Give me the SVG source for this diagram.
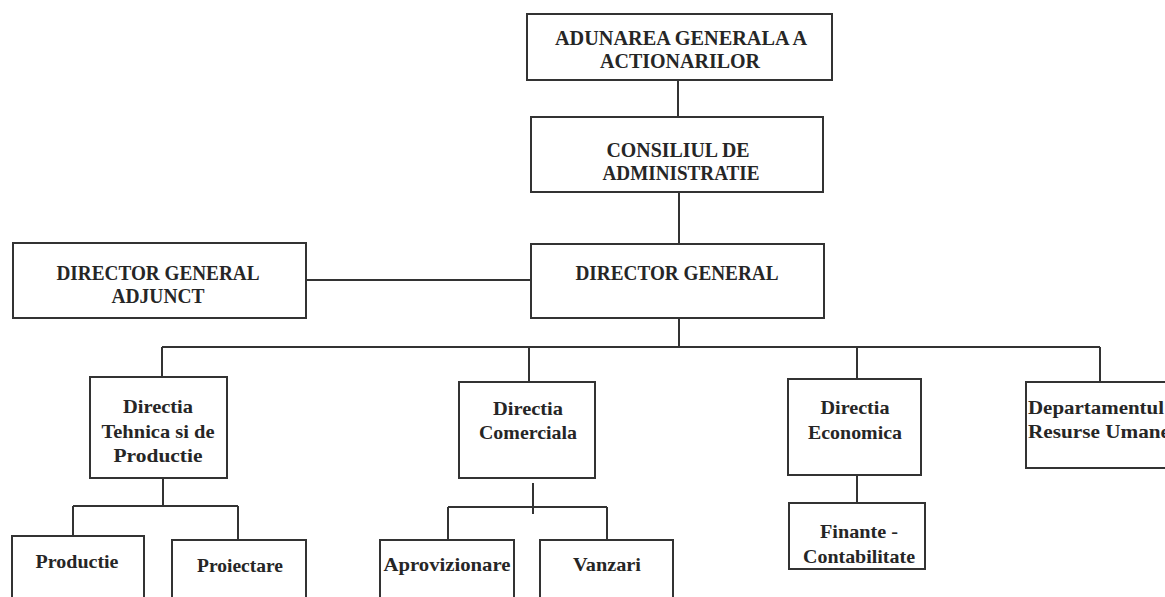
<svg xmlns="http://www.w3.org/2000/svg" width="1165" height="597" viewBox="0 0 1165 597">
<style>
.box{fill:#fff;stroke:#333;stroke-width:2}
.ln{fill:none;stroke:#333;stroke-width:2}
.t{font-family:"Liberation Serif","Times New Roman",serif;font-weight:bold;fill:#262626;text-anchor:middle}
.u{font-size:21px}
.l{font-size:19px}
</style>
<rect width="1165" height="597" fill="#fff"/>
<g id="connectors">
<path class="ln" d="M678 80V117"/>
<path class="ln" d="M679 192V244"/>
<path class="ln" d="M306 280H531"/>
<path class="ln" d="M679 318V347"/>
<path class="ln" d="M162 347H1100"/>
<path class="ln" d="M162 347V377"/>
<path class="ln" d="M529 347V382"/>
<path class="ln" d="M857 347V379"/>
<path class="ln" d="M1100 347V382"/>
<path class="ln" d="M163 478V506M73 506H238M73 506V536M238 506V540"/>
<path class="ln" d="M533 483V514M448 507H607M448 507V540M607 507V540"/>
<path class="ln" d="M857 475V503"/>
</g>
<g id="n-adunarea">
<rect class="box" x="527" y="14" width="305" height="66"/>
<text class="t u" x="681" y="45" textLength="252" lengthAdjust="spacingAndGlyphs">ADUNAREA GENERALA A</text>
<text class="t u" x="680" y="68" textLength="160" lengthAdjust="spacingAndGlyphs">ACTIONARILOR</text>
</g>
<g id="n-consiliul">
<rect class="box" x="531" y="117" width="292" height="75"/>
<text class="t u" x="678" y="157" textLength="143" lengthAdjust="spacingAndGlyphs">CONSILIUL DE</text>
<text class="t u" x="681" y="180" textLength="157" lengthAdjust="spacingAndGlyphs">ADMINISTRATIE</text>
</g>
<g id="n-dg">
<rect class="box" x="531" y="244" width="293" height="74"/>
<text class="t u" x="677" y="280" textLength="203" lengthAdjust="spacingAndGlyphs">DIRECTOR GENERAL</text>
</g>
<g id="n-dga">
<rect class="box" x="13" y="243" width="293" height="75"/>
<text class="t u" x="158" y="280" textLength="203" lengthAdjust="spacingAndGlyphs">DIRECTOR GENERAL</text>
<text class="t u" x="158" y="303" textLength="93" lengthAdjust="spacingAndGlyphs">ADJUNCT</text>
</g>
<g id="n-tehnica">
<rect class="box" x="90" y="377" width="137" height="101"/>
<text class="t l" x="158" y="413" textLength="70" lengthAdjust="spacingAndGlyphs">Directia</text>
<text class="t l" x="158" y="438" textLength="113" lengthAdjust="spacingAndGlyphs">Tehnica si de</text>
<text class="t l" x="158" y="462" textLength="89" lengthAdjust="spacingAndGlyphs">Productie</text>
</g>
<g id="n-comerciala">
<rect class="box" x="459" y="382" width="136" height="96"/>
<text class="t l" x="528" y="415" textLength="70" lengthAdjust="spacingAndGlyphs">Directia</text>
<text class="t l" x="528" y="439" textLength="98" lengthAdjust="spacingAndGlyphs">Comerciala</text>
</g>
<g id="n-economica">
<rect class="box" x="788" y="379" width="133" height="96"/>
<text class="t l" x="855" y="414" textLength="69" lengthAdjust="spacingAndGlyphs">Directia</text>
<text class="t l" x="855" y="439" textLength="94" lengthAdjust="spacingAndGlyphs">Economica</text>
</g>
<g id="n-resurse">
<rect class="box" x="1026" y="382" width="150" height="86"/>
<text class="t l" x="1028" y="414" style="text-anchor:start" textLength="136" lengthAdjust="spacingAndGlyphs">Departamentul</text>
<text class="t l" x="1028" y="438" style="text-anchor:start" textLength="142" lengthAdjust="spacingAndGlyphs">Resurse Umane</text>
</g>
<g id="n-productie">
<rect class="box" x="12" y="536" width="132" height="70"/>
<text class="t l" x="77" y="568" textLength="83" lengthAdjust="spacingAndGlyphs">Productie</text>
</g>
<g id="n-proiectare">
<rect class="box" x="172" y="540" width="134" height="70"/>
<text class="t l" x="240" y="572" textLength="86" lengthAdjust="spacingAndGlyphs">Proiectare</text>
</g>
<g id="n-aprovizionare">
<rect class="box" x="380" y="540" width="134" height="70"/>
<text class="t l" x="447" y="571" textLength="127" lengthAdjust="spacingAndGlyphs">Aprovizionare</text>
</g>
<g id="n-vanzari">
<rect class="box" x="540" y="540" width="133" height="70"/>
<text class="t l" x="607" y="571" textLength="68" lengthAdjust="spacingAndGlyphs">Vanzari</text>
</g>
<g id="n-finante">
<rect class="box" x="789" y="503" width="136" height="66"/>
<text class="t l" x="859" y="538" textLength="78" lengthAdjust="spacingAndGlyphs">Finante -</text>
<text class="t l" x="859" y="563" textLength="112" lengthAdjust="spacingAndGlyphs">Contabilitate</text>
</g>
</svg>
